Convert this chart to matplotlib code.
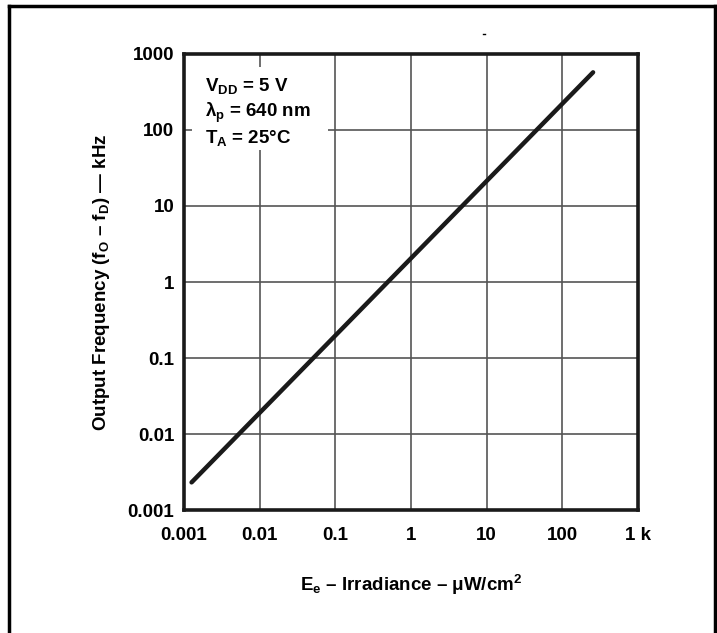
"""Output frequency vs irradiance (log-log)."""

import matplotlib

matplotlib.use("Agg")
import matplotlib.pyplot as plt
from matplotlib.lines import Line2D
from matplotlib.patches import Rectangle

plt.rcParams["font.family"] = ["Liberation Sans", "DejaVu Sans"]
plt.rcParams["font.weight"] = "bold"
plt.rcParams["axes.labelweight"] = "bold"
plt.rcParams["mathtext.fontset"] = "custom"
plt.rcParams["mathtext.rm"] = "Liberation Sans:bold"
plt.rcParams["mathtext.it"] = "Liberation Sans:bold"
plt.rcParams["mathtext.bf"] = "Liberation Sans:bold"

# data
irradiance = [0.00126, 255.0]  # uW/cm2
frequency = [0.00231, 574.0]  # kHz

x_ticks = [0.001, 0.01, 0.1, 1, 10, 100, 1000]
x_tick_labels = ["0.001", "0.01", "0.1", "1", "10", "100", "1 k"]
y_ticks = [0.001, 0.01, 0.1, 1, 10, 100, 1000]
y_tick_labels = ["0.001", "0.01", "0.1", "1", "10", "100", "1000"]
conditions = ["V$_{\\mathrm{DD}}$ = 5 V", "λ$_{\\mathrm{p}}$ = 640 nm", "T$_{\\mathrm{A}}$ = 25°C"]

fig = plt.figure(figsize=(7.17, 6.33), dpi=100)
ax = fig.add_axes([0.2566, 0.1943, 0.6332, 0.7204])

ax.plot(irradiance, frequency, color="#1a1a1a", linewidth=3.2,
        solid_capstyle="round", zorder=4)

ax.set_xscale("log")
ax.set_yscale("log")
ax.set_xlim(0.001, 1000)
ax.set_ylim(0.001, 1000)
ax.set_xticks(x_ticks)
ax.set_xticklabels(x_tick_labels)
ax.set_yticks(y_ticks)
ax.set_yticklabels(y_tick_labels)
ax.minorticks_off()
ax.tick_params(length=0, labelsize=13.5)
ax.tick_params(axis="x", pad=12)
ax.tick_params(axis="y", pad=7)
ax.grid(True, which="major", color="#555555", linewidth=1.2, zorder=1)
ax.set_axisbelow(True)
for sp in ax.spines.values():
    sp.set_linewidth(2.6)
    sp.set_color("#1a1a1a")

ax.set_xlabel("E$_{\\mathrm{e}}$ – Irradiance – μW/cm$^{\\mathrm{2}}$",
              fontsize=13.5, fontweight="bold")
ax.set_ylabel("Output Frequency (f$_{\\mathrm{O}}$ – f$_{\\mathrm{D}}$) — kHz",
              fontsize=13.5, fontweight="bold")
ax.xaxis.set_label_coords(0.5, -0.138)
ax.yaxis.set_label_coords(-0.159, 0.5)

# white patch behind the conditions block
ax.add_patch(Rectangle((0.018, 0.789), 0.30, 0.182, transform=ax.transAxes,
                       facecolor="white", edgecolor="none", zorder=2))
for text, yb in zip(conditions, [0.9195, 0.861, 0.804]):
    ax.text(0.046, yb, text, transform=ax.transAxes, fontsize=13.5,
            fontweight="bold", va="baseline", ha="left", zorder=5)

# page frame (open at the bottom)
frame = dict(color="black", linewidth=2.5, transform=fig.transFigure)
fig.add_artist(Line2D([9 / 717, 9 / 717], [0, 1 - 6 / 633], **frame))
fig.add_artist(Line2D([9 / 717, 715 / 717], [1 - 6 / 633, 1 - 6 / 633], **frame))
fig.add_artist(Line2D([715 / 717, 715 / 717], [0, 1 - 6 / 633], **frame))
fig.add_artist(Line2D([483 / 717, 485 / 717], [1 - 34 / 633, 1 - 34 / 633],
                      color="black", linewidth=1, transform=fig.transFigure))

fig.savefig("out.png", dpi=100)
